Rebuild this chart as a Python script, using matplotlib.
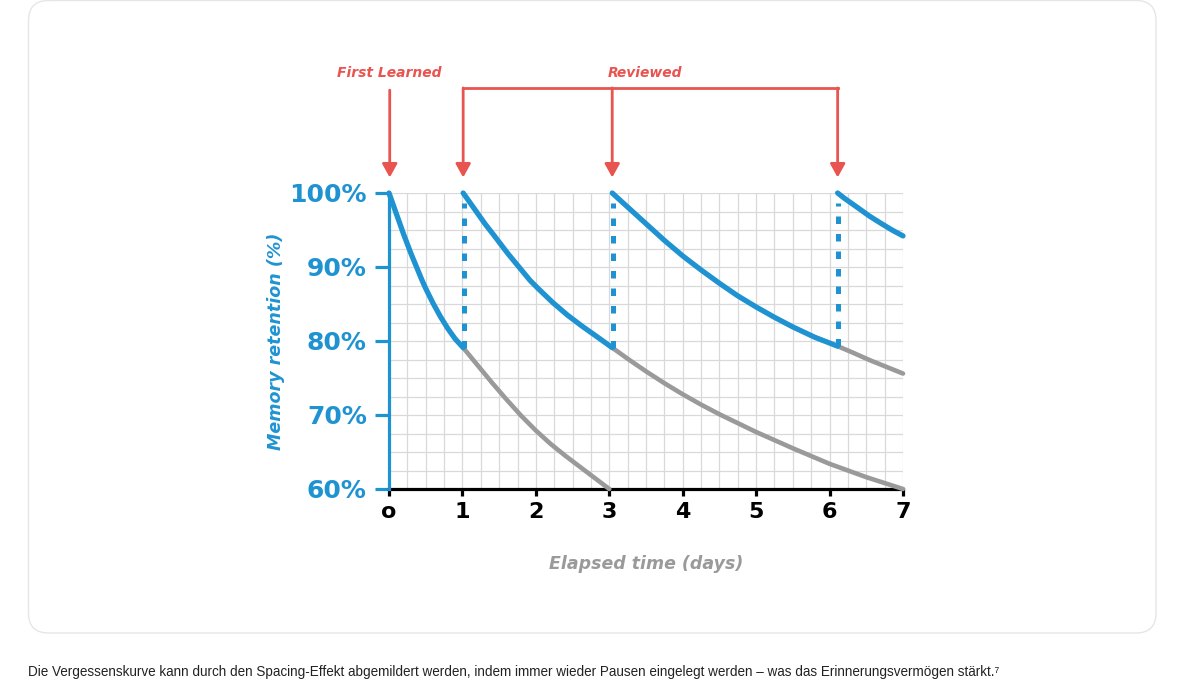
import matplotlib
matplotlib.use("Agg")
import matplotlib.pyplot as plt
from matplotlib.patches import FancyBboxPatch
from matplotlib.ticker import MultipleLocator

# --- data ---
review_days = [1.01, 3.04, 6.11]
review_low = [79.1, 79.1, 79.3]

# first learning, then each review (blue = remembered, grey = forgetting without review)
c1_t = [0, 0.05, 0.1, 0.15, 0.2, 0.25, 0.3, 0.35, 0.4, 0.45, 0.5, 0.6, 0.7, 0.8, 0.9, 1.01]
c1_r = [100, 98.6, 97.2, 95.8, 94.4, 93.1, 91.8, 90.6, 89.4, 88.2, 87.1, 85.1, 83.3, 81.7, 80.3, 79.1]
g1_t = [1.01, 1.2, 1.4, 1.6, 1.8, 2.0, 2.2, 2.4, 2.6, 2.8, 3.0]
g1_r = [79.1, 76.8, 74.4, 72.1, 69.9, 67.9, 66.1, 64.5, 63.0, 61.5, 60.0]

c2_t = [1.01, 1.11, 1.21, 1.31, 1.42, 1.52, 1.62, 1.72, 1.82, 1.92, 2.03, 2.23, 2.43, 2.63, 2.83, 3.04]
c2_r = [100, 98.6, 97.2, 95.8, 94.4, 93.1, 91.8, 90.6, 89.4, 88.2, 87.1, 85.2, 83.5, 82.0, 80.6, 79.1]
g2_t = [3.04, 3.25, 3.5, 3.75, 4.0, 4.25, 4.5, 4.75, 5.0, 5.5, 6.0, 6.5, 7.0]
g2_r = [79.1, 77.6, 75.9, 74.3, 72.8, 71.4, 70.1, 68.9, 67.7, 65.5, 63.4, 61.6, 60.0]

c3_t = [3.04, 3.2, 3.35, 3.5, 3.75, 4.0, 4.25, 4.5, 4.75, 5.0, 5.25, 5.5, 5.8, 6.11]
c3_r = [100, 98.55, 97.2, 95.85, 93.6, 91.5, 89.6, 87.8, 86.1, 84.6, 83.2, 81.9, 80.5, 79.3]
g3_t = [6.11, 6.3, 6.55, 6.8, 7.0]
g3_r = [79.3, 78.5, 77.4, 76.4, 75.6]

c4_t = [6.11, 6.2, 6.3, 6.4, 6.54, 6.7, 6.85, 7.0]
c4_r = [100, 99.3, 98.6, 97.9, 96.9, 95.9, 95.0, 94.2]

x_ticks = [0, 1, 2, 3, 4, 5, 6, 7]
x_labels = ["o", "1", "2", "3", "4", "5", "6", "7"]
y_ticks = [60, 70, 80, 90, 100]
y_labels = ["60%", "70%", "80%", "90%", "100%"]

caption = ("Die Vergessenskurve kann durch den Spacing-Effekt abgemildert werden, "
           "indem immer wieder Pausen eingelegt werden \u2013 was das Erinnerungsverm\u00f6gen st\u00e4rkt.\u2077")

BLUE = "#1f93d2"
GREY = "#9a9a9a"
RED = "#e8544f"
GRID = "#d9d9d9"
FONT = ["DejaVu Sans"]

W, H = 1184, 685
fig = plt.figure(figsize=(W / 100, H / 100), dpi=100)

# background card with rounded corners (pixel coordinates)
bg = fig.add_axes([0, 0, 1, 1])
bg.set_xlim(0, W)
bg.set_ylim(H, 0)
bg.axis("off")
card = FancyBboxPatch((28.5, 0.5), 1156 - 28.5, 633 - 0.5,
                      boxstyle="round,pad=0,rounding_size=20",
                      fc="white", ec="#e6e6e6", lw=1.0)
bg.add_patch(card)
bg.text(28, 672, caption, fontsize=9.75, color="#222222", va="center", ha="left",
        family=["Liberation Sans", "DejaVu Sans"])

# main plot
ax = fig.add_axes([389 / W, (H - 489) / H, 514 / W, 296 / H])
ax.set_xlim(0, 7)
ax.set_ylim(60, 100)

ax.xaxis.set_minor_locator(MultipleLocator(0.25))
ax.yaxis.set_minor_locator(MultipleLocator(2.5))
ax.grid(which="both", color=GRID, lw=0.9)
ax.set_axisbelow(True)

for s in ["top", "right"]:
    ax.spines[s].set_visible(False)
ax.spines["left"].set_color(BLUE)
ax.spines["left"].set_linewidth(2.3)
ax.spines["bottom"].set_color("black")
ax.spines["bottom"].set_linewidth(2.3)
ax.spines["left"].set_zorder(4)

ax.set_xticks(x_ticks)
ax.set_xticklabels(x_labels)
ax.set_yticks(y_ticks)
ax.set_yticklabels(y_labels)
ax.tick_params(which="minor", length=0)
ax.tick_params(axis="x", which="major", length=5, width=2.3, color="black", pad=4,
               labelsize=16, labelcolor="black")
ax.tick_params(axis="y", which="major", length=10, width=2.3, color=BLUE, pad=6,
               labelsize=18, labelcolor=BLUE)
for lab in ax.get_xticklabels() + ax.get_yticklabels():
    lab.set_fontweight("bold")
    lab.set_family(FONT)
ax.yaxis.get_major_ticks()[0].tick1line.set_color("black")

# forgetting curves
for t, r in [(g1_t, g1_r), (g2_t, g2_r), (g3_t, g3_r)]:
    ax.plot(t, r, color=GREY, lw=3.3, solid_capstyle="round", zorder=3, clip_on=False)
for t, r in [(c1_t, c1_r), (c2_t, c2_r), (c3_t, c3_r), (c4_t, c4_r)]:
    ax.plot(t, r, color=BLUE, lw=3.8, solid_capstyle="round", zorder=5, clip_on=False)
for d, lo in zip(review_days, review_low):
    ax.plot([d + 0.01, d + 0.01], [lo, 98.6], color=BLUE, lw=3.6, ls=(0, (1.5, 2.0)),
            dash_capstyle="butt", zorder=4)

# annotations above the plot
arrow_kw = dict(arrowstyle="-|>,head_length=0.45,head_width=0.25", color=RED,
                lw=2.0, shrinkA=0, shrinkB=0, mutation_scale=18)
ax.annotate("", xy=(0.01, 102.1), xytext=(0.01, 113.9), arrowprops=arrow_kw,
            annotation_clip=False)
for d in review_days:
    ax.annotate("", xy=(d, 102.1), xytext=(d, 114.2), arrowprops=arrow_kw,
                annotation_clip=False)
ax.plot([review_days[0], review_days[-1]], [114.2, 114.2], color=RED, lw=2.0,
        clip_on=False, solid_capstyle="projecting")
ax.text(0.0, 116.2, "First Learned", color=RED, fontsize=10, fontweight="bold",
        style="italic", ha="center", va="center", family=FONT)
ax.text(3.48, 116.2, "Reviewed", color=RED, fontsize=10, fontweight="bold",
        style="italic", ha="center", va="center", family=FONT)

ax.set_xlabel("Elapsed time (days)", color=GREY, fontsize=12.5, fontweight="bold",
              style="italic", labelpad=24, family=FONT)
ax.set_ylabel("Memory retention (%)", color=BLUE, fontsize=12.6, fontweight="bold",
              style="italic", labelpad=3, family=FONT)

fig.savefig("out.png", dpi=100)
